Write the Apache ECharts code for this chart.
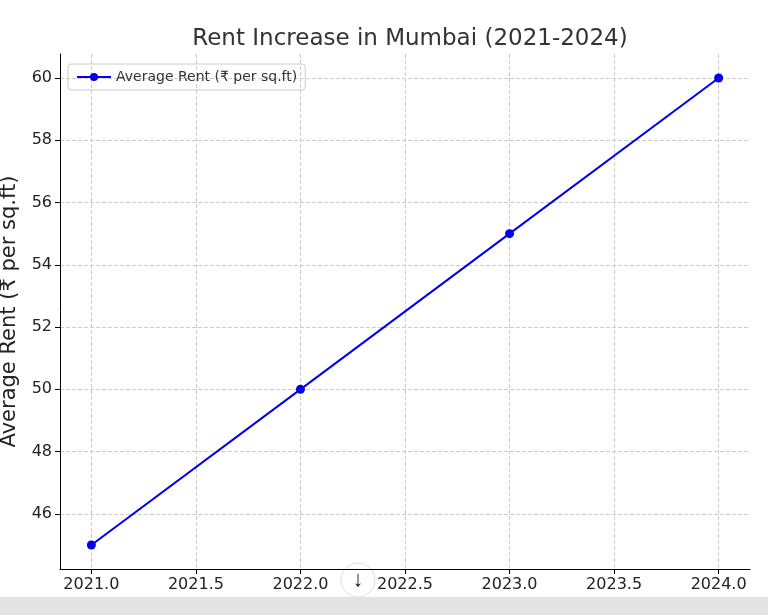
<!DOCTYPE html>
<html><head><meta charset="utf-8">
<script src="https://cdn.jsdelivr.net/npm/echarts@6/dist/echarts.min.js"></script>
<style>html,body{margin:0;background:#fff}#chart{width:768px;height:615px}</style>
</head><body><div id="chart"></div>
<script>
var years = [2021, 2022, 2023, 2024];
var rent = [45, 50, 55, 60];
var xTicks = [2021, 2021.5, 2022, 2022.5, 2023, 2023.5, 2024];
var yTicks = [46, 48, 50, 52, 54, 56, 58, 60];

var chart = echarts.init(document.getElementById('chart'));
var font = 'DejaVu Sans';
chart.setOption({
	animation: false,
	textStyle: { fontFamily: font },
	title: {
		text: 'Rent Increase in Mumbai (2021-2024)',
		left: 405, top: 23, textAlign: 'center',
		textStyle: { fontSize: 23, fontWeight: 'normal', color: '#333', fontFamily: font }
	},
	legend: {
		left: 68, top: 64,
		itemWidth: 34, itemHeight: 10,
		padding: [6, 8],
		borderColor: '#ccc', borderWidth: 1, borderRadius: 3,
		textStyle: { fontSize: 14, color: '#333' },
		data: ['Average Rent (₹ per sq.ft)']
	},
	grid: { left: 60, right: 18, top: 54, bottom: 46, containLabel: false, outerBoundsMode: 'none' },
	xAxis: {
		type: 'value', min: 2020.85, max: 2024.15,
		axisLine: { show: true, lineStyle: { color: '#000' } },
		axisTick: { show: true, customValues: xTicks, lineStyle: { color: '#000' } },
		axisLabel: { customValues: xTicks, fontSize: 16, color: '#222',
			formatter: function (v) { return v.toFixed(1); } },
		splitLine: { show: true, lineStyle: { type: 'dashed', color: '#ccc' } }
	},
	yAxis: {
		type: 'value', min: 44.23, max: 60.77,
		name: 'Average Rent (₹ per sq.ft)', nameLocation: 'middle', nameGap: 40,
		nameTextStyle: { fontSize: 21, color: '#222' },
		axisLine: { show: true, lineStyle: { color: '#000' } },
		axisTick: { show: true, customValues: yTicks, lineStyle: { color: '#000' } },
		axisLabel: { customValues: yTicks, fontSize: 16, color: '#222' },
		splitLine: { show: true, lineStyle: { type: 'dashed', color: '#ccc' } }
	},
	series: [{
		name: 'Average Rent (₹ per sq.ft)',
		type: 'line',
		data: years.map(function (y, i) { return [y, rent[i]]; }),
		color: '#0000ee',
		lineStyle: { width: 2 },
		symbol: 'circle', symbolSize: 9
	}],
	graphic: [
		{ type: 'rect', left: 0, top: 597, shape: { width: 768, height: 18 }, style: { fill: '#e3e3e3' } },
		{ type: 'circle', shape: { cx: 358, cy: 580, r: 17 }, style: { fill: '#fff', stroke: '#ddd' } },
		{ type: 'text', x: 358, y: 580, style: { text: '↓', fontSize: 22, fontWeight: 'bold', fill: '#222', align: 'center', verticalAlign: 'middle' } }
	]
});
</script></body></html>
